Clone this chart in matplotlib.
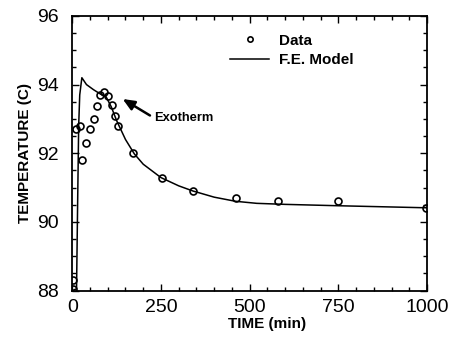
import numpy as np
import matplotlib
matplotlib.use("Agg")
import matplotlib.pyplot as plt
from matplotlib.legend_handler import HandlerLine2D
from matplotlib.ticker import MultipleLocator

plt.rcParams['font.family'] = ['Liberation Sans', 'DejaVu Sans']

# Measured data (circles)
data_time = [3, 3, 10, 22, 28, 39, 49, 60, 69, 79, 90, 100, 111, 120, 130,
             170, 253, 339, 461, 581, 749, 998]
data_temp = [88.3, 88.05, 92.7, 92.8, 91.8, 92.3, 92.7, 93.0, 93.38, 93.7, 93.78, 93.68, 93.4, 93.08, 92.8,
             92.0, 91.29, 90.9, 90.71, 90.62, 90.61, 90.4]

# Finite element model (line)
model_time = [0, 12, 15, 18, 21, 27, 40, 60, 80, 95, 110, 125, 150, 175, 200,
              250, 300, 340, 400, 460, 520, 600, 750, 1000]
model_temp = [88.0, 88.05, 90.5, 92.8, 93.7, 94.2, 94.0, 93.85, 93.72, 93.65, 93.35, 92.95, 92.4, 91.98, 91.68,
              91.29, 91.05, 90.9, 90.72, 90.6, 90.54, 90.51, 90.47, 90.41]


class RightMarkerHandler(HandlerLine2D):
    def get_xdata(self, legend, xdescent, ydescent, width, height, fontsize):
        xdata, _ = super().get_xdata(legend, xdescent, ydescent, width, height, fontsize)
        return xdata, np.array([width - xdescent - 1])


def small_marker(legline, orig):
    legline.update_from(orig)
    legline.set_markersize(3.8)


fig = plt.figure(figsize=(4.49, 3.39), dpi=100)
ax = fig.add_axes([0.161, 0.143, 0.790, 0.810])

ax.plot(model_time, model_temp, color='black', lw=1.1, label='F.E. Model')
ax.plot(data_time, data_temp, linestyle='none', marker='o', ms=5, mfc='none',
        mec='black', mew=1.2, label='Data')

ax.set_xlim(0, 1000)
ax.set_ylim(88, 96)
ax.xaxis.set_major_locator(MultipleLocator(250))
ax.xaxis.set_minor_locator(MultipleLocator(50))
ax.yaxis.set_major_locator(MultipleLocator(2))
ax.yaxis.set_minor_locator(MultipleLocator(0.5))
ax.tick_params(which='both', direction='in', top=True, right=True, width=1)
ax.tick_params(which='major', length=5, labelsize=14)
ax.tick_params(axis='x', which='major', pad=6)
ax.tick_params(axis='y', which='major', pad=10)
ax.tick_params(which='minor', length=3)
for s in ax.spines.values():
    s.set_linewidth(1.3)

ax.set_xlabel('TIME (min)', fontsize=11, fontweight='bold')
ax.xaxis.set_label_coords(0.548, -0.095)
ax.set_ylabel('TEMPERATURE (C)', fontsize=11, fontweight='bold')
ax.yaxis.set_label_coords(-0.113, 0.5)

ax.annotate('', xy=(142, 93.58), xytext=(219, 93.1),
            arrowprops=dict(arrowstyle='-|>,head_length=0.7,head_width=0.3',
                            color='black', lw=1.8, shrinkA=0, shrinkB=0))
ax.text(230, 93.02, 'Exotherm', fontsize=9.3, fontweight='bold',
        va='center', ha='left')

h_line, h_data = ax.get_lines()
leg = ax.legend([h_data, h_line], ['Data', 'F.E. Model'], frameon=False,
                loc='upper left', bbox_to_anchor=(0.405, 0.985),
                prop=dict(weight='bold', size=11), handlelength=2.6,
                handletextpad=0.6, labelspacing=0.35, numpoints=1,
                handler_map={h_data: RightMarkerHandler(numpoints=1, update_func=small_marker)})

fig.savefig('out.png', dpi=100)
